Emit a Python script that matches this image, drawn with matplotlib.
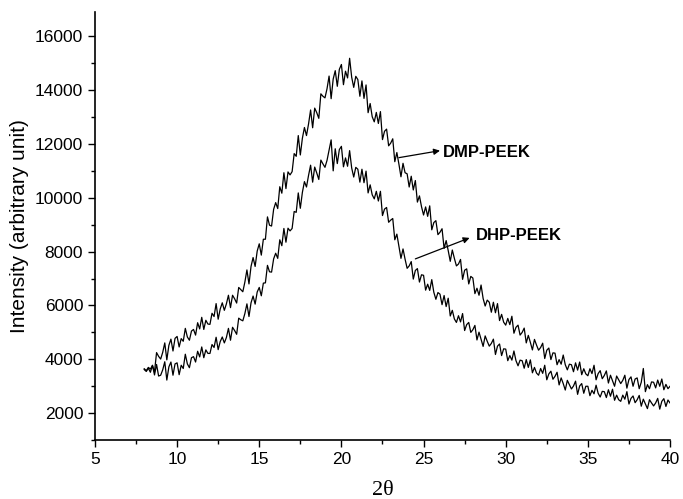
"""
Wide-angle X-ray diffraction patterns of DMP-PEEK and DHP-PEEK.

Intensities were read by hand off the original figure at a step of
0.125 degrees (2-theta) from 8 to 40 degrees.
"""

import matplotlib
import numpy as np

matplotlib.use("Agg")
import matplotlib.pyplot as plt

# Scan settings (2-theta, degrees)
SCAN_START = 8.0
SCAN_STEP = 0.125

# DMP-PEEK intensity, one row per degree (8 readings each)
DMP_PEEK = [
    3650, 3580, 3700, 3640, 3770, 3530, 4250, 4110,  # 8
    4010, 4260, 4610, 3980, 4520, 4750, 4310, 4780,  # 9
    4850, 4460, 4770, 4670, 5150, 4830, 4710, 5050,  # 10
    5110, 4900, 5360, 5130, 5560, 5110, 5450, 5310,  # 11
    5300, 5710, 5590, 6070, 5490, 5870, 6100, 5820,  # 12
    6060, 6380, 5920, 6380, 6250, 6090, 6670, 6590,  # 13
    6510, 6870, 7320, 6800, 7450, 7780, 7450, 8020,  # 14
    8290, 7870, 8460, 8460, 9290, 8980, 8950, 9570,  # 15
    9820, 9600, 10410, 10170, 10930, 10340, 10960, 10850,  # 16
    10970, 11640, 11540, 12310, 11590, 12210, 12610, 12310,  # 17
    12740, 13260, 12600, 13330, 13160, 12950, 13860, 13770,  # 18
    13710, 14050, 14520, 13680, 14410, 14720, 14140, 14770,  # 19
    14950, 14200, 14700, 14450, 15180, 14480, 14100, 14510,  # 20
    14390, 13770, 14340, 13690, 14190, 13160, 13500, 13010,  # 21
    12820, 13170, 12760, 13200, 12160, 12470, 12550, 11930,  # 22
    12030, 12190, 11340, 11680, 11250, 10780, 11280, 10930,  # 23
    10890, 10400, 10800, 10290, 10640, 9840, 10070, 9670,  # 24
    9360, 9660, 9310, 9700, 8810, 9080, 9150, 8630,  # 25
    8720, 8850, 8120, 8410, 8040, 7640, 8060, 7750,  # 26
    7470, 7540, 7710, 6970, 7310, 7360, 6800, 7080,  # 27
    7020, 6440, 6640, 6380, 6760, 6260, 5980, 6200,  # 28
    6120, 5750, 6120, 5730, 6070, 5440, 5670, 5380,  # 29
    5270, 5520, 5290, 5600, 4970, 5190, 5270, 4900,  # 30
    5000, 5160, 4610, 4890, 4630, 4350, 4740, 4530,  # 31
    4340, 4440, 4600, 4030, 4340, 4420, 3990, 4240,  # 32
    4230, 3800, 3990, 3820, 4160, 3800, 3610, 3820,  # 33
    3800, 3540, 3870, 3600, 3900, 3430, 3650, 3460,  # 34
    3390, 3650, 3470, 3780, 3240, 3470, 3580, 3280,  # 35
    3400, 3570, 3120, 3410, 3210, 3000, 3380, 3240,  # 36
    3100, 3220, 3410, 2930, 3250, 3350, 3000, 3270,  # 37
    3310, 2910, 3150, 3660, 2800, 3060, 2910, 3160,  # 38
    3150, 2940, 3230, 3000, 3270, 2870, 3070, 2910,  # 39
    3000,  # 40
]

# DHP-PEEK intensity, same grid
DHP_PEEK = [
    3620, 3550, 3670, 3520, 3780, 3420, 3810, 3380,  # 8
    3410, 3610, 3910, 3230, 3720, 3900, 3410, 3830,  # 9
    3870, 3430, 3780, 3660, 4190, 3830, 3690, 4060,  # 10
    4100, 3900, 4300, 4090, 4460, 4060, 4350, 4220,  # 11
    4220, 4550, 4440, 4820, 4360, 4660, 4830, 4610,  # 12
    4810, 5150, 4710, 5190, 5070, 4930, 5530, 5470,  # 13
    5430, 5700, 6060, 5590, 6100, 6350, 6050, 6500,  # 14
    6670, 6360, 6830, 6840, 7490, 7250, 7240, 7730,  # 15
    7940, 7750, 8440, 8220, 8860, 8350, 8870, 8770,  # 16
    8860, 9490, 9460, 10180, 9610, 10200, 10600, 10400,  # 17
    10830, 11210, 10580, 11140, 10920, 10680, 11400, 11260,  # 18
    11130, 11390, 11770, 12150, 11000, 11820, 11270, 11790,  # 19
    11910, 11150, 11480, 11170, 11750, 11110, 10770, 11130,  # 20
    11060, 10580, 11060, 10560, 10990, 10180, 10480, 10110,  # 21
    9960, 10240, 9880, 10240, 9340, 9580, 9640, 9090,  # 22
    9170, 9230, 8440, 8650, 8210, 7750, 8100, 7720,  # 23
    7380, 7470, 7630, 6980, 7300, 7370, 6870, 7140,  # 24
    7120, 6570, 6790, 6560, 6960, 6490, 6230, 6480,  # 25
    6420, 6030, 6370, 5960, 6270, 5610, 5820, 5500,  # 26
    5370, 5620, 5390, 5700, 5070, 5290, 5370, 5000,  # 27
    5100, 5260, 4720, 5010, 4750, 4480, 4870, 4670,  # 28
    4490, 4590, 4750, 4180, 4490, 4570, 4140, 4390,  # 29
    4380, 3950, 4140, 3970, 4310, 3950, 3760, 3970,  # 30
    3950, 3670, 3990, 3700, 3980, 3500, 3700, 3490,  # 31
    3410, 3660, 3480, 3780, 3240, 3460, 3560, 3260,  # 32
    3370, 3520, 3050, 3310, 3100, 2860, 3220, 3060,  # 33
    2900, 3010, 3190, 2700, 3010, 3100, 2740, 3000,  # 34
    3000, 2650, 2850, 2720, 3040, 2740, 2600, 2810,  # 35
    2800, 2580, 2870, 2630, 2890, 2480, 2670, 2500,  # 36
    2440, 2670, 2520, 2800, 2340, 2550, 2640, 2390,  # 37
    2500, 2660, 2260, 2520, 2350, 2170, 2500, 2380,  # 38
    2270, 2380, 2550, 2150, 2440, 2540, 2250, 2490,  # 39
    2380,  # 40
]

X_TICKS = [5, 10, 15, 20, 25, 30, 35, 40]
Y_TICKS = [2000, 4000, 6000, 8000, 10000, 12000, 14000, 16000]


def two_theta(n_points: int) -> np.ndarray:
    return SCAN_START + SCAN_STEP * np.arange(n_points)


def main():
    plt.rcParams["font.family"] = ["Liberation Sans", "DejaVu Sans"]

    fig = plt.figure(figsize=(6.83, 4.99), dpi=100)
    ax = fig.add_axes([0.139, 0.118, 0.842, 0.858])

    ax.plot(two_theta(len(DMP_PEEK)), DMP_PEEK, color="black", lw=0.9)
    ax.plot(two_theta(len(DHP_PEEK)), DHP_PEEK, color="black", lw=0.9)

    arrow = dict(arrowstyle="-|>", color="black", lw=0.9, mutation_scale=9,
                 shrinkA=0, shrinkB=0)
    ax.annotate("", xy=(26.0, 11750), xytext=(23.5, 11490), arrowprops=arrow)
    ax.text(26.2, 11680, "DMP-PEEK", fontsize=12, fontweight="bold",
            va="center", ha="left")
    ax.annotate("", xy=(27.8, 8510), xytext=(24.5, 7730), arrowprops=arrow)
    ax.text(28.2, 8590, "DHP-PEEK", fontsize=12, fontweight="bold",
            va="center", ha="left")

    ax.set_xlim(5, 40)
    ax.set_ylim(1000, 16900)
    ax.set_xticks(X_TICKS)
    ax.set_yticks(Y_TICKS)
    ax.set_xticks(np.array(X_TICKS[:-1]) + 2.5, minor=True)
    ax.set_yticks(np.array(Y_TICKS) - 1000, minor=True)
    ax.tick_params(which="major", direction="out", length=5, width=1,
                   labelsize=12.5)
    ax.tick_params(which="minor", direction="out", length=3, width=1)

    ax.spines["top"].set_visible(False)
    ax.spines["right"].set_visible(False)
    for side in ("left", "bottom"):
        ax.spines[side].set_linewidth(1.2)

    ax.set_ylabel("Intensity (arbitrary unit)", fontsize=15, labelpad=4)
    ax.set_xlabel("2\u03b8", fontsize=16, family=["Liberation Serif"],
                  labelpad=10)

    fig.savefig("out.png", dpi=100)
    plt.close(fig)


if __name__ == "__main__":
    main()
